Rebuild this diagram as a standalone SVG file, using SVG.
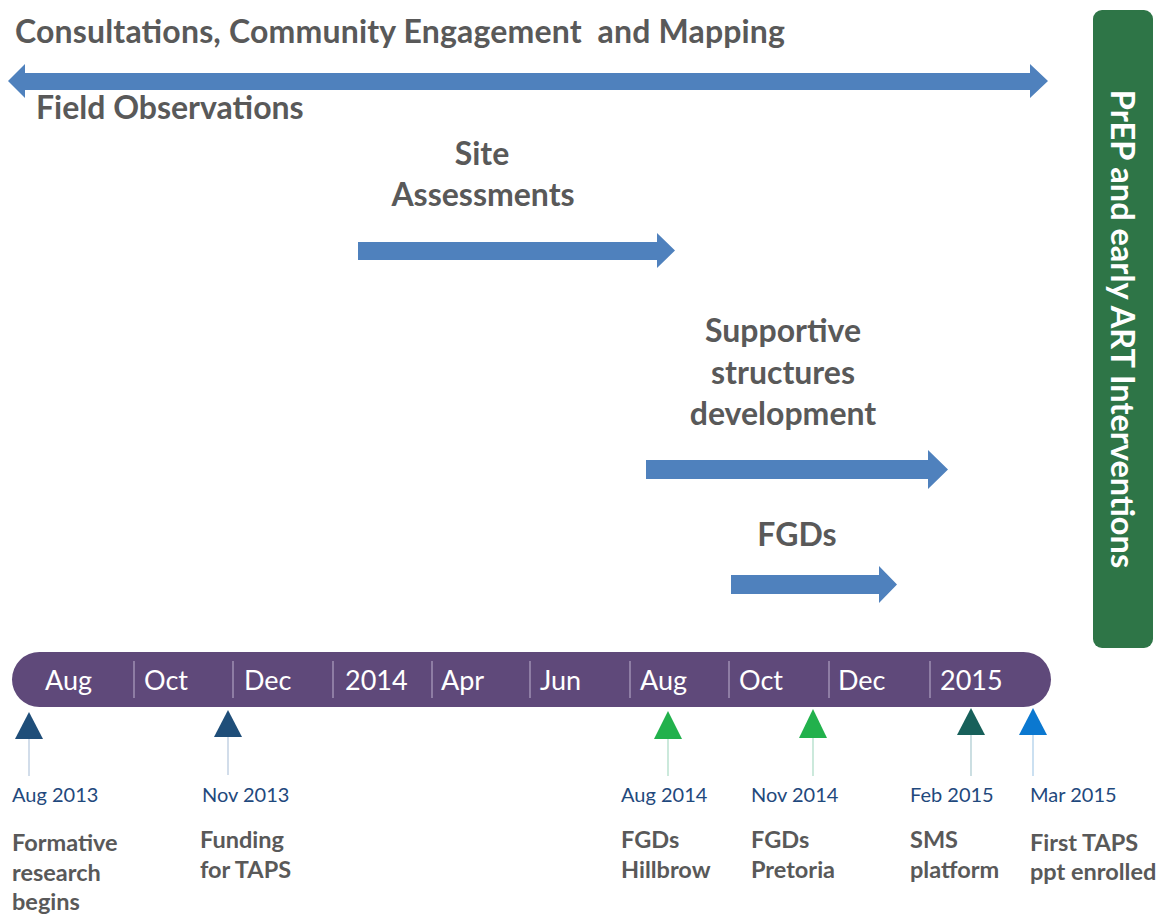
<svg xmlns="http://www.w3.org/2000/svg" width="1162" height="915" viewBox="0 0 1162 915">
<style>
.h{font-family:Lato,"Open Sans","Liberation Sans",sans-serif;font-weight:bold;font-size:32px;fill:#595959}
.c{text-anchor:middle}
.arr{fill:#4F81BD}
.bar{fill:#5F497A}
.sep{stroke:#9E8FB3;stroke-width:1.5}
.mon{font-family:Lato,"Open Sans","Liberation Sans",sans-serif;font-size:27px;fill:#FFFFFF}
.date{font-family:Lato,"Open Sans","Liberation Sans",sans-serif;font-size:20px;fill:#1F497D}
.desc{font-family:Lato,"Open Sans","Liberation Sans",sans-serif;font-weight:bold;font-size:23.5px;fill:#595959}
.stem{stroke-width:1.2}
.vt{font-family:Lato,"Open Sans","Liberation Sans",sans-serif;font-weight:bold;font-size:32.5px;fill:#FFFFFF;text-anchor:middle}
</style>
<rect width="1162" height="915" fill="#FFFFFF"/>
<g id="consultations">
<text class="h" x="15" y="43" xml:space="preserve" textLength="770">Consultations, Community Engagement  and Mapping</text>
<text class="h" x="36" y="119">Field Observations</text>
</g>
<g id="site-assessments">
<text class="h c" x="482" y="165">Site</text>
<text class="h c" x="483" y="206">Assessments</text>
</g>
<g id="supportive-structures">
<text class="h c" x="783" y="342">Supportive</text>
<text class="h c" x="783" y="384">structures</text>
<text class="h c" x="783" y="425">development</text>
</g>
<g id="fgds">
<text class="h c" x="797" y="546">FGDs</text>
</g>
<g id="prep-box">
<rect x="1093" y="10" width="60" height="638" rx="9" fill="#2E7547"/>
<text class="vt" transform="translate(1122,329) rotate(90)" x="0" y="11">PrEP and early ART Interventions</text>
</g>
<g id="connectors">
<polygon class="arr" points="8,81 25,64 25,73 1030,73 1030,64 1048,81 1030,98 1030,90 25,90 25,98"/>
<polygon class="arr" points="358,242 657,242 657,233 675,250.5 657,268 657,260 358,260"/>
<polygon class="arr" points="646,460 928,460 928,450 948,469.5 928,489 928,479 646,479"/>
<polygon class="arr" points="731,575 879,575 879,566 897,584.5 879,603 879,594 731,594"/>
</g>
<g id="timeline">
<rect class="bar" x="12" y="652" width="1039" height="55" rx="27.5"/>
<line class="sep" x1="134" y1="661" x2="134" y2="698"/>
<line class="sep" x1="233" y1="661" x2="233" y2="698"/>
<line class="sep" x1="333" y1="661" x2="333" y2="698"/>
<line class="sep" x1="432" y1="661" x2="432" y2="698"/>
<line class="sep" x1="530" y1="661" x2="530" y2="698"/>
<line class="sep" x1="630" y1="661" x2="630" y2="698"/>
<line class="sep" x1="729" y1="661" x2="729" y2="698"/>
<line class="sep" x1="829" y1="661" x2="829" y2="698"/>
<line class="sep" x1="930" y1="661" x2="930" y2="698"/>
<text class="mon" x="45" y="690">Aug</text>
<text class="mon" x="144" y="690">Oct</text>
<text class="mon" x="244" y="690">Dec</text>
<text class="mon" x="345" y="690">2014</text>
<text class="mon" x="441" y="690">Apr</text>
<text class="mon" x="540" y="690">Jun</text>
<text class="mon" x="640" y="690">Aug</text>
<text class="mon" x="739" y="690">Oct</text>
<text class="mon" x="838" y="690">Dec</text>
<text class="mon" x="940" y="690">2015</text>
</g>
<g id="m-aug2013">
<polygon points="29,712 43,739 15,739" fill="#1F4E79"/>
<line class="stem" x1="29" y1="739" x2="29" y2="776" stroke="#B4C7DC"/>
<text class="date" x="12" y="802">Aug 2013</text>
<text class="desc" x="12" y="851">Formative</text>
<text class="desc" x="12" y="881">research</text>
<text class="desc" x="12" y="910">begins</text>
</g>
<g id="m-nov2013">
<polygon points="228,710 242,737 214,737" fill="#1F4E79"/>
<line class="stem" x1="228" y1="737" x2="228" y2="775" stroke="#B4C7DC"/>
<text class="date" x="202" y="802">Nov 2013</text>
<text class="desc" x="200" y="848">Funding</text>
<text class="desc" x="200" y="878">for TAPS</text>
</g>
<g id="m-aug2014">
<polygon points="668,711 682,739 654,739" fill="#22B14C"/>
<line class="stem" x1="668" y1="739" x2="668" y2="776" stroke="#A9DBC4"/>
<text class="date" x="621" y="802">Aug 2014</text>
<text class="desc" x="621" y="848">FGDs</text>
<text class="desc" x="621" y="878">Hillbrow</text>
</g>
<g id="m-nov2014">
<polygon points="813,709 827,738 799,738" fill="#22B14C"/>
<line class="stem" x1="813" y1="738" x2="813" y2="776" stroke="#A9DBC4"/>
<text class="date" x="751" y="802">Nov 2014</text>
<text class="desc" x="751" y="848">FGDs</text>
<text class="desc" x="751" y="878">Pretoria</text>
</g>
<g id="m-feb2015">
<polygon points="971,708 985,735 957,735" fill="#17605A"/>
<line class="stem" x1="971" y1="735" x2="971" y2="776" stroke="#A9C9CF"/>
<text class="date" x="910" y="802">Feb 2015</text>
<text class="desc" x="910" y="848">SMS</text>
<text class="desc" x="910" y="878">platform</text>
</g>
<g id="m-mar2015">
<polygon points="1033,708 1047,735 1019,735" fill="#0B78D0"/>
<line class="stem" x1="1033" y1="735" x2="1033" y2="776" stroke="#A8CCE8"/>
<text class="date" x="1030" y="802">Mar 2015</text>
<text class="desc" x="1030" y="851">First TAPS</text>
<text class="desc" x="1030" y="880">ppt enrolled</text>
</g>
</svg>
